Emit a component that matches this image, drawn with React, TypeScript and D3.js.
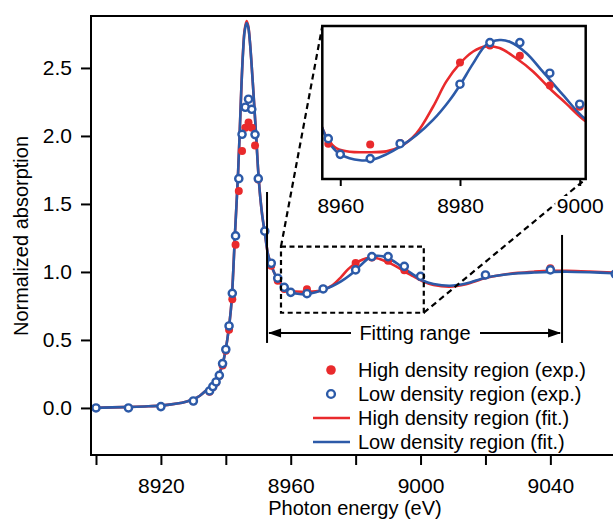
import React, { useEffect, useRef } from 'react';
import * as d3 from 'd3';

// measured spectra (exp.)
const expEnergy = [8900, 8910, 8920, 8930, 8935, 8936, 8937, 8938, 8939, 8940, 8941, 8942, 8943, 8944, 8945, 8946, 8947, 8948, 8949, 8950, 8952, 8954, 8956, 8958, 8960, 8965, 8970, 8980, 8985, 8990, 8995, 9000, 9020, 9040, 9060];
const highExp = [0.0, 0.0, 0.01, 0.05, 0.12, 0.152, 0.186, 0.235, 0.312, 0.42, 0.575, 0.8, 1.2, 1.595, 1.89, 2.061, 2.098, 2.06, 1.93, 1.68, 1.3, 1.045, 0.935, 0.875, 0.852, 0.873, 0.877, 1.066, 1.106, 1.082, 1.012, 0.962, 0.975, 1.027, 0.987];
const lowExp = [0.0, 0.0, 0.01, 0.051, 0.125, 0.157, 0.191, 0.24, 0.326, 0.43, 0.603, 0.843, 1.265, 1.686, 2.012, 2.211, 2.27, 2.196, 2.01, 1.686, 1.3, 1.064, 0.954, 0.887, 0.85, 0.84, 0.875, 1.015, 1.113, 1.113, 1.041, 0.968, 0.978, 1.015, 0.985];

// fitted curves (fit.)
const highFitEnergy = [8898.5, 8905, 8910, 8915, 8920, 8925, 8928, 8930, 8932, 8934, 8935.5, 8937, 8938, 8939, 8939.8, 8940.5, 8941.2, 8941.8, 8942.3, 8942.8, 8943.3, 8943.8, 8944.3, 8944.8, 8945.3, 8945.8, 8946.4, 8946.9, 8947.4, 8947.9, 8948.4, 8948.9, 8949.4, 8949.9, 8950.5, 8951.2, 8952, 8953, 8954, 8955, 8956, 8957, 8958, 8959.4, 8961.6, 8964.4, 8967.7, 8970, 8972.7, 8975.5, 8977.7, 8980, 8982.2, 8984.4, 8986.6, 8989.4, 8992.2, 8995, 8997.7, 9000.8, 9004, 9009, 9014, 9020, 9025, 9030, 9035, 9040, 9045, 9052, 9060];
const highFit = [0.0, 0.004, 0.007, 0.011, 0.017, 0.032, 0.048, 0.064, 0.09, 0.13, 0.165, 0.21, 0.255, 0.32, 0.41, 0.51, 0.64, 0.79, 1.01, 1.27, 1.5, 1.74, 2.04, 2.36, 2.62, 2.78, 2.845, 2.81, 2.7, 2.54, 2.36, 2.17, 1.98, 1.77, 1.58, 1.42, 1.29, 1.13, 1.05, 0.99, 0.95, 0.912, 0.884, 0.864, 0.856, 0.855, 0.857, 0.868, 0.899, 0.962, 1.021, 1.064, 1.092, 1.104, 1.1, 1.076, 1.045, 1.005, 0.97, 0.93, 0.905, 0.892, 0.91, 0.955, 0.978, 0.993, 1.002, 1.008, 1.008, 1.003, 0.995];
const lowFitEnergy = [8898.5, 8905, 8910, 8915, 8920, 8925, 8928, 8930, 8932, 8934, 8935.5, 8937, 8938, 8939, 8939.8, 8940.5, 8941.2, 8941.8, 8942.3, 8942.8, 8943.3, 8943.8, 8944.3, 8944.8, 8945.3, 8945.8, 8946.4, 8946.9, 8947.4, 8947.9, 8948.4, 8948.9, 8949.4, 8949.9, 8950.5, 8951.2, 8952, 8953, 8954, 8955, 8956, 8957, 8958, 8959, 8960, 8963.3, 8965.5, 8967.7, 8970, 8972.7, 8975.5, 8978.3, 8980, 8982.2, 8984.4, 8986.6, 8988.3, 8991.1, 8993.8, 8997.2, 9000.8, 9004, 9009, 9014, 9020, 9025, 9030, 9035, 9040, 9045, 9052, 9060];
const lowFit = [0.0, 0.004, 0.007, 0.011, 0.017, 0.032, 0.048, 0.064, 0.09, 0.13, 0.165, 0.21, 0.255, 0.32, 0.41, 0.51, 0.64, 0.79, 1.01, 1.27, 1.5, 1.74, 2.04, 2.36, 2.61, 2.77, 2.83, 2.8, 2.7, 2.54, 2.36, 2.17, 1.98, 1.77, 1.58, 1.42, 1.29, 1.13, 1.05, 0.99, 0.95, 0.912, 0.88, 0.862, 0.85, 0.836, 0.838, 0.85, 0.868, 0.895, 0.931, 0.978, 1.013, 1.064, 1.108, 1.119, 1.115, 1.088, 1.045, 0.99, 0.935, 0.912, 0.899, 0.915, 0.958, 0.978, 0.99, 0.996, 1.0, 1.002, 0.998, 0.99];

const xTicks = [8900, 8920, 8940, 8960, 8980, 9000, 9020, 9040];
const xTickLabels = [8920, 8960, 9000, 9040];
const yTicks = [0, 0.5, 1.0, 1.5, 2.0, 2.5];
const insetTicks = [8960, 8980, 9000];
const insetRange = [8957, 9001];
const zoomBox = [0.70, 1.186];
const fittingRange = [8952.7, 9043.6];

const legendItems = [
  { label: 'High density region (exp.)', kind: 'dot' },
  { label: 'Low density region (exp.)', kind: 'circle' },
  { label: 'High density region (fit.)', kind: 'redline' },
  { label: 'Low density region (fit.)', kind: 'blueline' },
];

const RED = '#e92a2c';
const BLUE = '#2c5aa8';
const FONT = '"Liberation Sans", Arial, sans-serif';

const App = () => {
  const ref = useRef<SVGSVGElement | null>(null);

  useEffect(() => {
    const svg = d3.select(ref.current);
    svg.selectAll('*').remove();

    const left = 91, right = 613, top = 16, bottom = 455;
    const x = d3.scaleLinear().domain([8898.46, 9059.3]).range([left, right]);
    const y = d3.scaleLinear().domain([-0.346, 2.882]).range([bottom, top]);

    const high = expEnergy.map((e, i) => [e, highExp[i]]);
    const low = expEnergy.map((e, i) => [e, lowExp[i]]);
    const hFit = highFitEnergy.map((e, i) => [e, highFit[i]]);
    const lFit = lowFitEnergy.map((e, i) => [e, lowFit[i]]);

    svg.append('clipPath').attr('id', 'plotclip')
      .append('rect').attr('x', left).attr('y', top).attr('width', right - left).attr('height', bottom - top);

    const plot = svg.append('g').attr('clip-path', 'url(#plotclip)');

    const line = d3.line<number[]>()
      .x(d => x(d[0])).y(d => y(d[1]))
      .curve(d3.curveCatmullRom.alpha(0.5));

    plot.append('path').datum(hFit).attr('d', line).attr('fill', 'none').attr('stroke', RED).attr('stroke-width', 2.6);
    plot.append('path').datum(lFit).attr('d', line).attr('fill', 'none').attr('stroke', BLUE).attr('stroke-width', 2.6);

    plot.selectAll('circle.h').data(high).enter().append('circle')
      .attr('cx', d => x(d[0])).attr('cy', d => y(d[1])).attr('r', 4).attr('fill', RED);
    plot.selectAll('circle.l').data(low).enter().append('circle')
      .attr('cx', d => x(d[0])).attr('cy', d => y(d[1])).attr('r', 3.6)
      .attr('fill', 'white').attr('stroke', BLUE).attr('stroke-width', 2.4);

    // Axes
    const xAxis = svg.append('g').attr('transform', `translate(0,${bottom})`)
      .call(d3.axisBottom(x).tickValues(xTicks).tickSize(10).tickSizeOuter(0).tickPadding(13)
        .tickFormat(d => (xTickLabels.includes(+d) ? String(d) : '')));
    const yAxis = svg.append('g').attr('transform', `translate(${left},0)`)
      .call(d3.axisLeft(y).tickValues(yTicks).tickSize(10).tickSizeOuter(0).tickPadding(9)
        .tickFormat(d3.format('.1f')));
    [xAxis, yAxis].forEach(a => {
      a.selectAll('path, line').attr('stroke', 'black').attr('stroke-width', 2);
      a.selectAll('text').attr('font-family', FONT).attr('font-size', 21).attr('fill', 'black');
    });
    xAxis.select('.domain').attr('d', `M${left},0H${right}`);
    yAxis.select('.domain').attr('d', `M0,${top}V${bottom + 1}`);
    svg.append('line').attr('x1', left - 1).attr('x2', right).attr('y1', top).attr('y2', top)
      .attr('stroke', 'black').attr('stroke-width', 2);

    svg.append('text').attr('x', 355).attr('y', 515).attr('text-anchor', 'middle')
      .attr('font-family', FONT).attr('font-size', 20).text('Photon energy (eV)');
    svg.append('text').attr('transform', 'translate(28,236) rotate(-90)').attr('text-anchor', 'middle')
      .attr('font-family', FONT).attr('font-size', 20).text('Normalized absorption');

    // Fitting range
    const fr = svg.append('g');
    const arrowY = y(0.551);
    fr.append('line').attr('x1', x(fittingRange[0])).attr('x2', x(fittingRange[0]))
      .attr('y1', y(1.588)).attr('y2', y(0.478)).attr('stroke', 'black').attr('stroke-width', 2);
    fr.append('line').attr('x1', x(fittingRange[1])).attr('x2', x(fittingRange[1]))
      .attr('y1', y(1.272)).attr('y2', y(0.478)).attr('stroke', 'black').attr('stroke-width', 2);
    fr.append('line').attr('x1', x(fittingRange[0]) + 2).attr('x2', 351).attr('y1', arrowY).attr('y2', arrowY)
      .attr('stroke', 'black').attr('stroke-width', 2);
    fr.append('line').attr('x1', 480).attr('x2', x(fittingRange[1]) - 2).attr('y1', arrowY).attr('y2', arrowY)
      .attr('stroke', 'black').attr('stroke-width', 2);
    const xa = x(fittingRange[0]) + 1, xb = x(fittingRange[1]) - 1;
    fr.append('path').attr('d', `M${xa},${arrowY}L${xa + 13},${arrowY - 4.5}L${xa + 13},${arrowY + 4.5}Z`).attr('fill', 'black');
    fr.append('path').attr('d', `M${xb},${arrowY}L${xb - 13},${arrowY - 4.5}L${xb - 13},${arrowY + 4.5}Z`).attr('fill', 'black');
    fr.append('text').attr('x', 415).attr('y', arrowY + 7).attr('text-anchor', 'middle')
      .attr('font-family', FONT).attr('font-size', 20).text('Fitting range');

    // Inset
    const ix = d3.scaleLinear().domain(insetRange).range([322.3, 585.7]);
    const iy = d3.scaleLinear().domain([0.792, 1.152]).range([179, 26]);

    // dashed zoom box and connectors
    const bx0 = x(insetRange[0]), bx1 = x(insetRange[1]);
    const by0 = y(zoomBox[1]), by1 = y(zoomBox[0]);
    svg.append('rect').attr('x', bx0).attr('y', by0).attr('width', bx1 - bx0).attr('height', by1 - by0)
      .attr('fill', 'none').attr('stroke', 'black').attr('stroke-width', 2.2).attr('stroke-dasharray', '5,3.5');
    svg.append('line').attr('x1', bx0).attr('y1', by0).attr('x2', ix.range()[0]).attr('y2', iy.range()[1])
      .attr('stroke', 'black').attr('stroke-width', 2.2).attr('stroke-dasharray', '6,4');
    svg.append('line').attr('x1', bx1).attr('y1', by1).attr('x2', ix.range()[1]).attr('y2', iy.range()[0])
      .attr('stroke', 'black').attr('stroke-width', 2.2).attr('stroke-dasharray', '6,4');

    const inset = svg.append('g');
    inset.append('rect').attr('x', 322.3).attr('y', 26).attr('width', 263.4).attr('height', 153).attr('fill', 'white');
    inset.append('clipPath').attr('id', 'insetclip')
      .append('rect').attr('x', 322.3).attr('y', 26).attr('width', 263.4).attr('height', 153);
    const ip = inset.append('g').attr('clip-path', 'url(#insetclip)');
    const iline = d3.line<number[]>()
      .x(d => ix(d[0])).y(d => iy(d[1]))
      .curve(d3.curveCatmullRom.alpha(0.5));
    ip.append('path').datum(hFit).attr('d', iline).attr('fill', 'none').attr('stroke', RED).attr('stroke-width', 2.6);
    ip.append('path').datum(lFit).attr('d', iline).attr('fill', 'none').attr('stroke', BLUE).attr('stroke-width', 2.6);
    const inRange = (d: number[]) => d[0] >= insetRange[0] && d[0] <= insetRange[1];
    ip.selectAll('circle.h').data(high.filter(inRange)).enter().append('circle')
      .attr('cx', d => ix(d[0])).attr('cy', d => iy(d[1])).attr('r', 4).attr('fill', RED);
    ip.selectAll('circle.l').data(low.filter(inRange)).enter().append('circle')
      .attr('cx', d => ix(d[0])).attr('cy', d => iy(d[1])).attr('r', 3.6)
      .attr('fill', 'white').attr('stroke', BLUE).attr('stroke-width', 2.4);
    inset.append('rect').attr('x', 322.3).attr('y', 26).attr('width', 263.4).attr('height', 153)
      .attr('fill', 'none').attr('stroke', 'black').attr('stroke-width', 2.5);

    const iAxis = inset.append('g').attr('transform', 'translate(0,179)')
      .call(d3.axisBottom(ix).tickValues(insetTicks).tickSize(7).tickSizeOuter(0).tickPadding(12)
        .tickFormat(d3.format('d')));
    iAxis.select('.domain').remove();
    iAxis.selectAll('line').attr('stroke', 'black').attr('stroke-width', 2);
    iAxis.selectAll('.tick').insert('rect', 'text')
      .attr('x', -25).attr('y', 17).attr('width', 50).attr('height', 21).attr('fill', 'white');
    iAxis.selectAll('text').attr('font-family', FONT).attr('font-size', 21).attr('fill', 'black');

    // Legend
    const lg = svg.append('g');
    legendItems.forEach((item, i) => {
      const cy = 370 + i * 24;
      if (item.kind === 'dot') lg.append('circle').attr('cx', 331).attr('cy', cy).attr('r', 4.8).attr('fill', RED);
      if (item.kind === 'circle') lg.append('circle').attr('cx', 331).attr('cy', cy).attr('r', 3.9)
        .attr('fill', 'white').attr('stroke', BLUE).attr('stroke-width', 2.4);
      if (item.kind === 'redline' || item.kind === 'blueline') lg.append('line')
        .attr('x1', 313).attr('x2', 350).attr('y1', cy).attr('y2', cy)
        .attr('stroke', item.kind === 'redline' ? RED : BLUE).attr('stroke-width', 2.6);
      lg.append('text').attr('x', 358).attr('y', cy + 7).attr('font-family', FONT).attr('font-size', 20)
        .text(item.label);
    });
  }, []);

  return (
    <div style={{ position: 'absolute', left: 0, top: 0 }}>
      <svg ref={ref} width={613} height={519} style={{ display: 'block', background: 'white' }} />
    </div>
  );
};

export default App;
